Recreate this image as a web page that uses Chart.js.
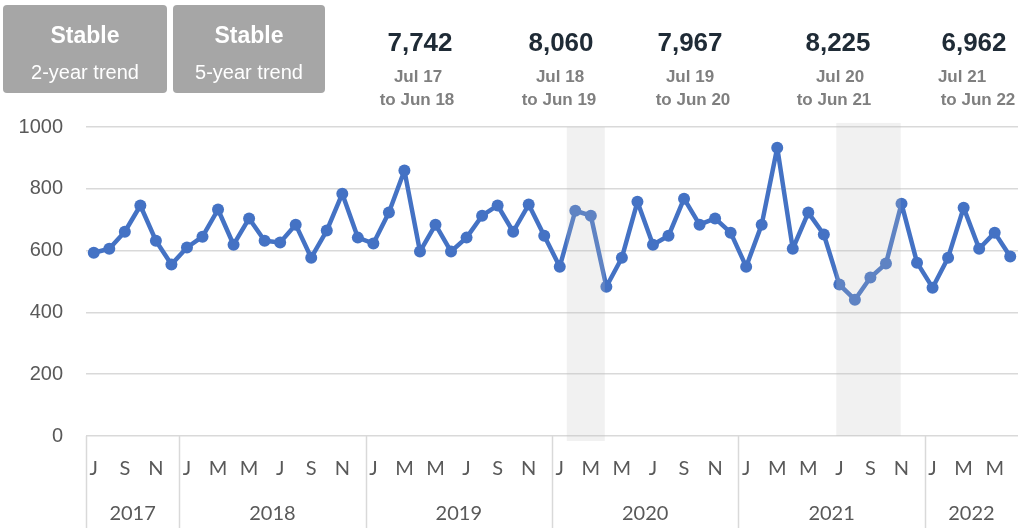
<!DOCTYPE html>
<html>
<head>
<meta charset="utf-8">
<script src="https://cdn.jsdelivr.net/npm/chart.js@4.4.1/dist/chart.umd.min.js"></script>
<style>
  html, body { margin: 0; padding: 0; background: #fff; }
  #wrap { position: relative; width: 1019px; height: 528px; overflow: hidden; }
  #chart { position: absolute; left: 0; top: 0; }
  .box { position: absolute; top: 5px; height: 88px; background: #a6a6a6; border-radius: 4px;
         color: #fff; font-family: "Liberation Sans", Arial, sans-serif; text-align: center; }
  .box .big { position: absolute; left: 0; right: 0; top: 17px; font-size: 23px; font-weight: bold; }
  .box .small { position: absolute; left: 0; right: 0; top: 56px; font-size: 20px; }
  .tot { position: absolute; width: 140px; margin-left: -70px; text-align: center;
         font-family: "Liberation Sans", Arial, sans-serif; font-weight: bold; }
  .tot .n { position: absolute; left: 0; right: 0; top: 27px; font-size: 26px; color: #1f2b36; }
  .tot .p { position: absolute; left: 0; right: 0; font-size: 17px; color: #7f7f7f; }
</style>
</head>
<body>
<div id="wrap">
  <canvas id="chart" width="1019" height="528"></canvas>
  <div class="box" style="left:3px;width:164px"><div class="big">Stable</div><div class="small">2-year trend</div></div>
  <div class="box" style="left:173px;width:152px"><div class="big">Stable</div><div class="small">5-year trend</div></div>
  <div id="totals"></div>
</div>
<script>
// monthly counts, Jul 2017 .. Jun 2022
const counts2017 = [593, 606, 661, 746, 632, 555];
const counts2018 = [610, 645, 733, 619, 704, 632, 626, 684, 577, 665, 784, 642];
const counts2019 = [623, 723, 859, 597, 684, 597, 642, 713, 746, 661, 749, 648];
const counts2020 = [548, 729, 713, 483, 577, 758, 619, 648, 768, 684, 704, 658];
const counts2021 = [548, 684, 933, 606, 723, 652, 490, 441, 513, 558, 752, 561];
const counts2022 = [480, 577, 739, 606, 658, 581];

const monthLabels = [
  "J", "", "S", "", "N", "",
  "J", "", "M", "", "M", "", "J", "", "S", "", "N", "",
  "J", "", "M", "", "M", "", "J", "", "S", "", "N", "",
  "J", "", "M", "", "M", "", "J", "", "S", "", "N", "",
  "J", "", "M", "", "M", "", "J", "", "S", "", "N", "",
  "J", "", "M", "", "M", ""
];
const years = ["2017", "2018", "2019", "2020", "2021", "2022"];
const monthsPerYear = [6, 12, 12, 12, 12, 6];

const yearTotals = ["7,742", "8,060", "7,967", "8,225", "6,962"];
const periodFrom = ["Jul 17", "Jul 18", "Jul 19", "Jul 20", "Jul 21"];
const periodTo = ["to Jun 18", "to Jun 19", "to Jun 20", "to Jun 21", "to Jun 22"];

const yTicks = [0, 200, 400, 600, 800, 1000];

const values = [...counts2017, ...counts2018, ...counts2019, ...counts2020, ...counts2021, ...counts2022];

// header totals
const totX = [420, 561, 690, 838, 974];
const fromX = [418, 560, 690, 840, 962];
const toX = [417, 559, 693, 834, 978];
const totals = document.getElementById("totals");
yearTotals.forEach((t, i) => {
  totals.insertAdjacentHTML("beforeend",
    `<div class="tot" style="left:${totX[i]}px"><div class="n">${t}</div></div>` +
    `<div class="tot" style="left:${fromX[i]}px"><div class="p" style="top:67px">${periodFrom[i]}</div></div>` +
    `<div class="tot" style="left:${toX[i]}px"><div class="p" style="top:90px">${periodTo[i]}</div></div>`);
});

// shaded periods (fractional month index, value range)
const bands = [
  { from: 30.45, to: 32.9, top: 1000, bottom: -16 },
  { from: 47.8, to: 51.95, top: 1013, bottom: 0 },
];

const shade = {
  id: "shade",
  afterDatasetsDraw(chart) {
    const { ctx, scales: { x, y } } = chart;
    ctx.save();
    ctx.fillStyle = "rgba(190,190,190,0.22)";
    bands.forEach(b => {
      const x0 = x.getPixelForValue(b.from), x1 = x.getPixelForValue(b.to);
      const y0 = y.getPixelForValue(b.top), y1 = y.getPixelForValue(b.bottom);
      ctx.fillRect(x0, y0, x1 - x0, y1 - y0);
    });
    ctx.restore();
  },
};

const yearAxis = {
  id: "yearAxis",
  afterDraw(chart) {
    const { ctx, scales: { x }, chartArea } = chart;
    ctx.save();
    ctx.strokeStyle = "#d9d9d9";
    ctx.lineWidth = 1.5;
    ctx.fillStyle = "#595959";
    ctx.font = "20px Lato";
    ctx.textAlign = "center";
    ctx.textBaseline = "middle";
    let start = 0;
    years.forEach((yr, i) => {
      const end = start + monthsPerYear[i];
      const x0 = x.getPixelForValue(start - 0.5);
      const x1 = x.getPixelForValue(end - 0.5);
      ctx.beginPath();
      ctx.moveTo(Math.round(x0) + 0.5, chartArea.bottom);
      ctx.lineTo(Math.round(x0) + 0.5, 528);
      ctx.stroke();
      ctx.fillText(yr, (x0 + x1) / 2, 514);
      start = end;
    });
    ctx.restore();
  },
};

new Chart(document.getElementById("chart"), {
  type: "line",
  data: {
    labels: monthLabels,
    datasets: [{
      data: values,
      borderColor: "#4472c4",
      backgroundColor: "#4472c4",
      borderWidth: 4.5,
      borderJoinStyle: "round",
      pointRadius: 6,
      pointBorderWidth: 0,
      pointBackgroundColor: "#4472c4",
      tension: 0,
      clip: false,
    }],
  },
  options: {
    responsive: false,
    animation: false,
    layout: { autoPadding: false, padding: { top: 127, left: 0, right: 1, bottom: 0 } },
    plugins: { legend: { display: false }, tooltip: { enabled: false } },
    scales: {
      x: {
        offset: true,
        grid: { display: true, drawOnChartArea: false, drawTicks: true, tickLength: 21, color: "rgba(0,0,0,0)" },
        border: { display: false },
        ticks: {
          autoSkip: false, maxRotation: 0, padding: 0,
          color: "#595959", font: { family: "Lato", size: 20 },
        },
        afterFit: s => { s.height = 92; },
      },
      y: {
        min: 0, max: 1000,
        afterBuildTicks: s => { s.ticks = yTicks.map(v => ({ value: v })); },
        grid: { color: "#d9d9d9", lineWidth: 1.5, drawTicks: false },
        border: { display: false },
        ticks: {
          padding: 23, color: "#595959",
          font: { family: "Liberation Sans", size: 20 },
          callback: v => String(v),
        },
        afterFit: s => { s.width = 86; },
      },
    },
  },
  plugins: [shade, yearAxis],
});
</script>
</body>
</html>
